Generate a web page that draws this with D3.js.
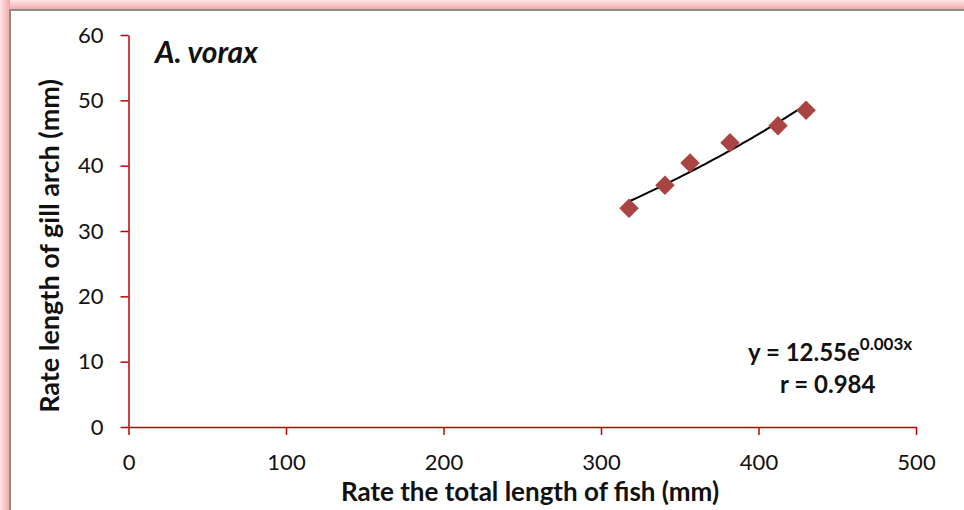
<!DOCTYPE html>
<html><head><meta charset="utf-8">
<script src="https://cdn.jsdelivr.net/npm/d3@7"></script>
<style>body{margin:0;background:#fff;}svg{display:block;font-family:Lato,"Open Sans",sans-serif;}</style>
</head><body>
<script>
const fishLength = [317.8, 340.6, 356.5, 381.9, 412.4, 430.2];
const gillArch = [33.5, 37.0, 40.4, 43.5, 46.1, 48.5];
const xTicks = [0, 100, 200, 300, 400, 500];
const yTicks = [0, 10, 20, 30, 40, 50, 60];
const speciesLabel = "A. vorax";
const equationCoef = "y = 12.55e";
const equationExp = "0.003x";
const rLabel = "r = 0.984";

const W = 964, H = 510;
const svg = d3.select("body").append("svg").attr("width", W).attr("height", H);

// frame with pink glow
const defs = svg.append("defs");
const g1 = defs.append("linearGradient").attr("id","gTop").attr("x1",0).attr("y1",0).attr("x2",0).attr("y2",1);
g1.append("stop").attr("offset","0%").attr("stop-color","#fde6e6");
g1.append("stop").attr("offset","100%").attr("stop-color","#f5a3a3");
const g2 = defs.append("linearGradient").attr("id","gLeft").attr("x1",0).attr("y1",0).attr("x2",1).attr("y2",0);
g2.append("stop").attr("offset","0%").attr("stop-color","#fde6e6");
g2.append("stop").attr("offset","100%").attr("stop-color","#f5a3a3");
svg.append("rect").attr("x",0).attr("y",0).attr("width",W).attr("height",10).attr("fill","url(#gTop)");
svg.append("rect").attr("x",0).attr("y",0).attr("width",10).attr("height",H).attr("fill","url(#gLeft)");
svg.append("rect").attr("x",10).attr("y",10).attr("width",W).attr("height",H).attr("fill","#fff")
  .attr("stroke","#8c8c8c").attr("stroke-width",2);

const x = d3.scaleLinear().domain([0, 500]).range([128.5, 916]);
const y = d3.scaleLinear().domain([0, 60]).range([427, 35]);

const red = "#c00000";
const xAxis = svg.append("g").attr("transform", `translate(0,${y(0)})`)
  .call(d3.axisBottom(x).tickValues(xTicks).tickSize(8).tickSizeOuter(0).tickPadding(19));
const yAxis = svg.append("g").attr("transform", `translate(${x(0)},0)`)
  .call(d3.axisLeft(y).tickValues(yTicks).tickSize(8).tickSizeOuter(0).tickPadding(17));
[xAxis, yAxis].forEach(a => {
  a.selectAll("path").attr("stroke", red).attr("stroke-width", 1.5);
  a.selectAll("line").attr("stroke", red).attr("stroke-width", 1.5);
  a.selectAll("text").attr("fill", "#111").style("font-size", "22px").style("font-family", "Lato, sans-serif");
});

// axis titles
svg.append("text").attr("x", 530).attr("y", 501).attr("text-anchor","middle")
  .style("font-size","26px").style("font-weight","bold").attr("fill","#111")
  .text("Rate the total length of fish (mm)");
svg.append("text").attr("transform","translate(59,246) rotate(-90)").attr("text-anchor","middle")
  .style("font-size","27px").style("font-weight","bold").attr("fill","#111")
  .text("Rate length of gill arch (mm)");

// species label
svg.append("text").attr("x",155).attr("y",63).style("font-size","30px")
  .style("font-weight","bold").style("font-style","italic").attr("fill","#111").text(speciesLabel);

// exponential fit from data
const lx = fishLength, ly = gillArch.map(Math.log);
const mx = d3.mean(lx), my = d3.mean(ly);
const b = d3.sum(lx.map((v,i)=>(v-mx)*(ly[i]-my))) / d3.sum(lx.map(v=>(v-mx)*(v-mx)));
const a = Math.exp(my - b*mx);
const xs = d3.range(d3.min(fishLength), d3.max(fishLength)+0.01, 2);
svg.append("path").datum(xs)
  .attr("d", d3.line().x(d=>x(d)).y(d=>y(a*Math.exp(b*d))))
  .attr("fill","none").attr("stroke","#000").attr("stroke-width",2);

// markers
svg.append("g").selectAll("path").data(fishLength).join("path")
  .attr("d", d3.symbol().type(d3.symbolSquare).size(190))
  .attr("transform",(d,i)=>`translate(${x(d)},${y(gillArch[i])}) rotate(45)`)
  .attr("fill","#a94442");

// equation
const eq = svg.append("text").attr("x",748).attr("y",361).style("font-size","24px")
  .style("font-weight","bold").attr("fill","#111");
eq.append("tspan").text(equationCoef);
eq.append("tspan").attr("dy",-11).style("font-size","17px").text(equationExp);
svg.append("text").attr("x",780).attr("y",393).style("font-size","24px")
  .style("font-weight","bold").attr("fill","#111").text(rLabel);
</script>
</body></html>
